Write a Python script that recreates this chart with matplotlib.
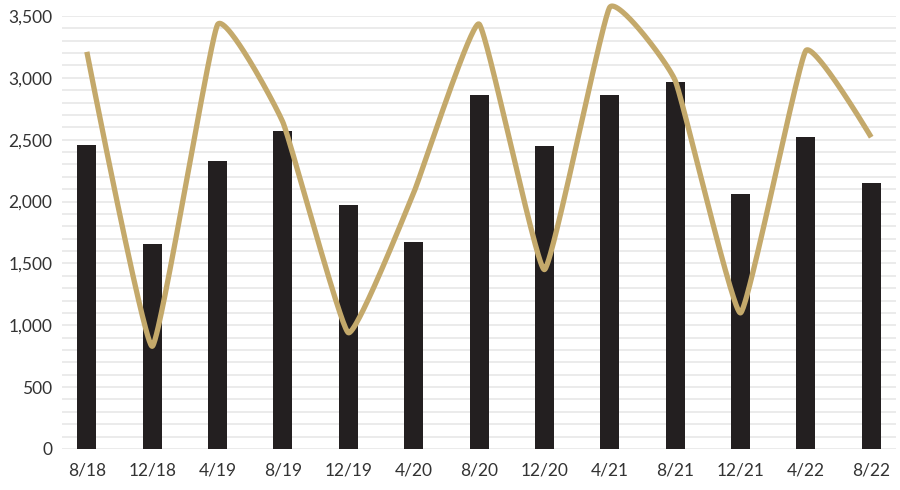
import numpy as np
import matplotlib
matplotlib.use("Agg")
import matplotlib.pyplot as plt

# Period labels and the two series
periods = ["8/18", "12/18", "4/19", "8/19", "12/19", "4/20", "8/20",
           "12/20", "4/21", "8/21", "12/21", "4/22", "8/22"]
bar_values = [2460, 1660, 2330, 2570, 1975, 1675, 2860,
              2445, 2860, 2965, 2060, 2520, 2150]
line_values = [3210, 830, 3430, 2640, 940, 2070, 3435,
               1450, 3570, 2980, 1100, 3220, 2520]
y_ticks = [0, 500, 1000, 1500, 2000, 2500, 3000, 3500]

BAR_COLOR = "#231f20"
LINE_COLOR = "#c4a96b"
GRID_COLOR = "#e8e8e8"
TEXT_COLOR = "#333333"


def cardinal(points, tension=0.65, samples=60):
    """Cardinal spline (cubic Bezier form) through screen points."""
    p = np.asarray(points, float)
    n = len(p)
    k = (1.0 - tension) / 6.0
    out = [p[0]]
    for i in range(n - 1):
        p1, p2 = p[i], p[i + 1]
        c1 = p1 + k * (p2 - p[i - 1]) if i > 0 else p1.copy()
        c2 = p2 - k * (p[i + 2] - p1) if i + 2 < n else p2.copy()
        u = np.linspace(0, 1, samples)[1:, None]
        seg = ((1 - u) ** 3 * p1 + 3 * (1 - u) ** 2 * u * c1
               + 3 * (1 - u) * u ** 2 * c2 + u ** 3 * p2)
        out.extend(seg)
    return np.array(out)


plt.rcParams["font.family"] = ["Lato", "DejaVu Sans"]

fig = plt.figure(figsize=(9, 4.9), dpi=100)
ax = fig.add_axes([0.0689, 0.0837, 0.9267, 0.8837])

xpos = np.arange(len(periods))
ax.set_xlim(-0.38, len(periods) - 1 + 0.38)
ax.set_ylim(0, 3500)

# Light horizontal rules every 100
for v in range(0, 3501, 100):
    ax.axhline(v, color=GRID_COLOR, lw=1.2, zorder=0)

ax.bar(xpos, bar_values, width=0.29, color=BAR_COLOR, zorder=2)

# Smooth the line in screen space, then map back to data coordinates
screen_pts = ax.transData.transform(np.column_stack([xpos, line_values]))
curve = ax.transData.inverted().transform(cardinal(screen_pts))
ax.plot(curve[:, 0], curve[:, 1], color=LINE_COLOR, lw=3.8,
        solid_capstyle="butt", solid_joinstyle="round", zorder=3,
        clip_on=False)

ax.set_yticks(y_ticks)
ax.set_yticklabels([f"{v:,}" for v in y_ticks])
ax.set_xticks(xpos)
ax.set_xticklabels(periods)

for spine in ax.spines.values():
    spine.set_visible(False)
ax.tick_params(axis="both", length=0, labelsize=12.5, colors=TEXT_COLOR)
ax.tick_params(axis="y", pad=7)
ax.tick_params(axis="x", pad=10)

fig.savefig("out.png", dpi=100, facecolor="white")
